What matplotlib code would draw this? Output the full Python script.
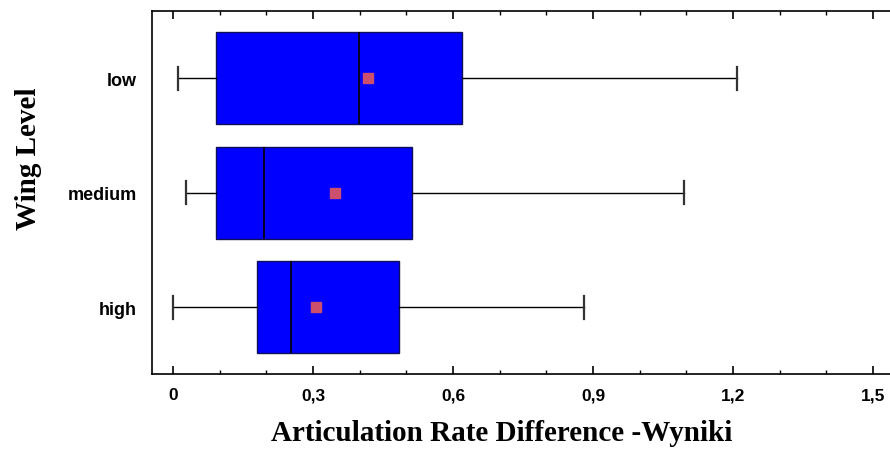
import matplotlib
matplotlib.use("Agg")
import matplotlib.pyplot as plt
from matplotlib.ticker import MultipleLocator, FuncFormatter

# box plot summaries (bottom to top)
levels = ["high", "medium", "low"]
whis_lo = [0.000, 0.027, 0.010]
q1 = [0.179, 0.093, 0.093]
medians = [0.252, 0.194, 0.398]
q3 = [0.484, 0.513, 0.620]
whis_hi = [0.880, 1.096, 1.208]
means = [0.306, 0.348, 0.417]


def comma_fmt(v, pos):
    if abs(v) < 1e-9:
        return "0"
    return "{0:.1f}".format(v).replace(".", ",")


stats = []
for i in range(len(levels)):
    stats.append({"label": levels[i], "whislo": whis_lo[i], "q1": q1[i], "med": medians[i],
                  "q3": q3[i], "whishi": whis_hi[i], "mean": means[i], "fliers": []})

fig = plt.figure(figsize=(8.9, 4.56), dpi=100)
ax = fig.add_axes([152 / 890, 1 - 375 / 456, 1 - 152 / 890, 363 / 456])

ax.bxp(stats, positions=[1, 2, 3], widths=0.8, vert=False, patch_artist=True,
       showmeans=True, showfliers=False, capwidths=0.2,
       boxprops=dict(facecolor="#0000ff", edgecolor="#10105a", linewidth=1.0),
       medianprops=dict(color="black", linewidth=1.2),
       whiskerprops=dict(color="black", linewidth=1.0),
       capprops=dict(color="#333333", linewidth=1.6),
       meanprops=dict(marker="s", markerfacecolor="#cc4f6e", markeredgecolor="#cc4f6e",
                      markersize=7))

ax.set_xlim(-0.045, (890 - 173) / (700 / 1.5))
ax.set_ylim(0.418, 3.585)

ax.xaxis.set_major_locator(MultipleLocator(0.3))
ax.xaxis.set_minor_locator(MultipleLocator(0.1))
ax.xaxis.set_major_formatter(FuncFormatter(comma_fmt))
ax.tick_params(axis="x", which="major", direction="in", length=6, width=1.2, top=True,
               labelsize=12.5, pad=9.5)
ax.tick_params(axis="x", which="minor", direction="in", length=3, width=1.0, top=True)
ax.tick_params(axis="y", length=0, labelsize=13, pad=11)
for lab in ax.get_xticklabels() + ax.get_yticklabels():
    lab.set_fontweight("bold")
    lab.set_fontfamily("Liberation Sans")

ax.spines["right"].set_visible(False)
for s in ["left", "top", "bottom"]:
    ax.spines[s].set_linewidth(1.2)

ax.set_xlabel("Articulation Rate Difference -Wyniki", fontsize=21, fontweight="bold",
              family="Liberation Serif")
ax.set_ylabel("Wing Level", fontsize=21, fontweight="bold", family="Liberation Serif")
ax.xaxis.set_label_coords(0.474, -0.16)
ax.xaxis.label.set_va("center")
ax.yaxis.set_label_coords(-0.168, 0.595)
ax.yaxis.label.set_va("center")

fig.savefig("out.png", dpi=100)
